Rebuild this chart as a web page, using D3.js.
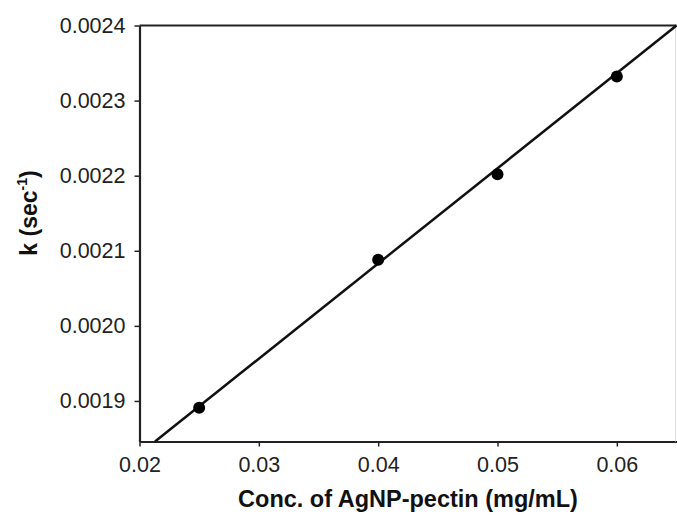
<!DOCTYPE html>
<html><head><meta charset="utf-8">
<script src="https://cdn.jsdelivr.net/npm/d3@7"></script>
<style>body{margin:0;background:#fff}svg{display:block}</style>
</head><body>
<svg id="c" width="677" height="519"></svg>
<script>
const concX = [0.025, 0.04, 0.05, 0.06];
const rateK = [0.001891, 0.002088, 0.002202, 0.002332];
const fitX = [0.0213, 0.065];
const fitY = [0.001846, 0.0024];
const xTicks = [0.02, 0.03, 0.04, 0.05, 0.06];
const yTicks = [0.0019, 0.0020, 0.0021, 0.0022, 0.0023, 0.0024];
const xTitle = "Conc. of AgNP-pectin (mg/mL)";

const svg = d3.select("#c");
const x = d3.scaleLinear().domain([0.02, 0.065]).range([139.5, 676.5]);
const y = d3.scaleLinear().domain([0.001846, 0.0024]).range([441.5, 25.5]);
const font = "Liberation Sans, Arial, sans-serif";

const xa = svg.append("g").attr("transform", "translate(0,441.5)")
  .call(d3.axisBottom(x).tickValues(xTicks).tickFormat(d3.format(".2f")).tickSize(5).tickSizeOuter(0).tickPadding(10));
const ya = svg.append("g").attr("transform", "translate(139.5,0)")
  .call(d3.axisLeft(y).tickValues(yTicks).tickFormat(d3.format(".4f")).tickSize(5).tickSizeOuter(0).tickPadding(9));
[xa, ya].forEach(a => {
  a.selectAll("path.domain").attr("stroke", "#222").attr("stroke-width", 2.2);
  a.selectAll(".tick line").attr("stroke", "#222").attr("stroke-width", 1.5);
  a.selectAll("text").attr("font-family", font).attr("font-size", 21.5).attr("fill", "#222");
});
// top frame
svg.append("line").attr("x1", x(0.02)).attr("x2", x(0.065)).attr("y1", y(0.0024)).attr("y2", y(0.0024))
  .attr("stroke", "#222").attr("stroke-width", 2.2);
svg.append("line").attr("x1", x(0.065)-1).attr("x2", x(0.065)-1).attr("y1", y(0.0024)).attr("y2", y(0.001846))
  .attr("stroke", "#ddd").attr("stroke-width", 1);

svg.append("path").datum(fitX.map((v, i) => [v, fitY[i]]))
  .attr("d", d3.line().x(d => x(d[0])).y(d => y(d[1])))
  .attr("stroke", "#111").attr("stroke-width", 2.5).attr("fill", "none");

svg.selectAll("circle.pt").data(concX.map((v, i) => [v, rateK[i]])).enter()
  .append("circle").attr("class", "pt").attr("cx", d => x(d[0])).attr("cy", d => y(d[1]))
  .attr("r", 6).attr("fill", "#000");

svg.append("text").attr("x", 408).attr("y", 507).attr("text-anchor", "middle")
  .attr("font-family", font).attr("font-weight", "bold").attr("font-size", 23.5).attr("fill", "#111")
  .text(xTitle);

const yt = svg.append("text").attr("transform", "translate(37,213) rotate(-90)").attr("text-anchor", "middle")
  .attr("font-family", font).attr("font-weight", "bold").attr("font-size", 23).attr("fill", "#111");
yt.append("tspan").text("k (sec");
yt.append("tspan").attr("font-size", 14).attr("dy", -10).text("-1");
yt.append("tspan").attr("dy", 10).text(")");
</script>
</body></html>
